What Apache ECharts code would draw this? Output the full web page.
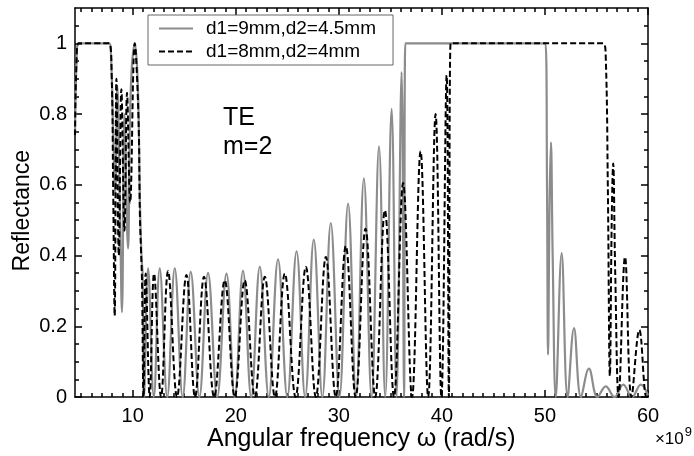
<!DOCTYPE html>
<html>
<head>
<meta charset="utf-8">
<script src="https://cdn.jsdelivr.net/npm/echarts@6/dist/echarts.min.js"></script>
<style>
html,body{margin:0;padding:0;background:#fff;}
#chart{width:694px;height:456px;}
</style>
</head>
<body>
<div id="chart"></div>
<script>
// ---- data ----
const seriesNames = ['d1=9mm,d2=4.5mm', 'd1=8mm,d2=4mm'];
const xTickLabels = [10, 20, 30, 40, 50, 60];
const yTickLabels = [0, 0.2, 0.4, 0.6, 0.8, 1];

// d1=9mm,d2=4.5mm  (grey solid): frequency (x1e9 rad/s) and reflectance
const grayFreq = [4.4, 4.55, 4.75, 7.7, 7.9, 8.1, 8.3, 8.5, 8.75, 8.96, 9.2, 9.54, 9.8, 10.2, 10.5, 10.7, 10.85, 10.97, 11.1,
  11.49, 12.05, 12.62, 13.35, 14.08, 14.85, 15.63, 16.47, 17.31, 18.2, 19.1, 19.9, 20.7, 21.5, 22.33, 23.2, 24.1, 25.0,
  25.9, 26.73, 27.57, 28.4, 29.22, 30.06, 30.9, 31.67, 32.43, 33.17, 33.9, 34.5, 35.12, 35.6, 36.09, 36.33, 36.45,
  50.05, 50.2, 50.3, 50.45, 50.58, 50.75, 51.05, 51.62, 52.2, 52.82, 53.5, 54.27, 55.1, 55.9, 56.75, 57.6, 58.45, 59.3, 60];
const grayRefl = [0.74, 0.95, 1, 1, 0.96, 0.75, 0.58, 0.88, 0.55, 0.24, 0.8, 0.42, 0.86, 1, 0.88, 0.55, 0.4, 0.34, 0,
  0.364, 0, 0.364, 0, 0.364, 0, 0.354, 0, 0.351, 0, 0.349, 0, 0.357, 0, 0.368, 0, 0.389, 0,
  0.412, 0, 0.445, 0, 0.492, 0, 0.547, 0, 0.618, 0, 0.709, 0, 0.815, 0, 0.919, 0, 1,
  1, 0.6, 0.12, 0.55, 0.72, 0.4, 0, 0.407, 0, 0.195, 0, 0.08, 0, 0.03, 0, 0.035, 0, 0.035, 0.005];

// d1=8mm,d2=4mm  (black dashed)
const blackFreq = [4.4, 4.55, 4.75, 7.7, 7.95, 8.1, 8.25, 8.42, 8.65, 8.9, 9.2, 9.45, 9.75, 10.2, 10.55, 10.7, 10.8, 10.9, 11.05,
  11.26, 11.65, 12.07, 12.75, 13.43, 14.3, 15.21, 16.05, 16.92, 17.9, 18.93, 19.9, 20.87, 21.85, 22.82, 23.8, 24.76, 25.8,
  26.8, 27.77, 28.74, 29.7, 30.68, 31.63, 32.59, 33.53, 34.47, 35.35, 36.24, 37.1, 37.93, 38.67, 39.39, 39.95, 40.46, 40.68, 40.85,
  55.65, 55.9, 56.1, 56.3, 56.48, 56.62, 56.82, 57.15, 57.77, 58.4, 59.16, 59.85, 60];
const blackRefl = [0.74, 0.95, 1, 1, 0.92, 0.6, 0.23, 0.9, 0.4, 0.87, 0.47, 0.86, 0.55, 1, 0.8, 0.51, 0.42, 0.33, 0,
  0.349, 0, 0.349, 0, 0.356, 0, 0.345, 0, 0.34, 0, 0.33, 0, 0.33, 0, 0.34, 0, 0.349, 0,
  0.368, 0, 0.396, 0, 0.427, 0, 0.476, 0, 0.528, 0, 0.605, 0, 0.695, 0, 0.8, 0, 0.91, 0, 1,
  1, 0.96, 0.6, 0.06, 0.5, 0.66, 0.35, 0, 0.396, 0, 0.19, 0, 0.01];

// ---- chart ----
const X_MIN = 4.4, X_MAX = 60, Y_MIN = 0, Y_MAX = 1.1;
const xMinor = [];
for (let v = 5; v < X_MAX; v += 1) { if (v % 10 !== 0) xMinor.push(v); }
const yMinor = [];
for (let i = 1; i <= 22; i++) { const v = +(i * 0.05).toFixed(2); if (Math.round(v * 100) % 20 !== 0 && v < Y_MAX) yMinor.push(v); }

const FONT = 'Liberation Sans, Arial, sans-serif';
const axisLineStyle = { color: '#000', width: 1.5 };

function xAxisDef(pos, major) {
  return {
    type: 'value', min: X_MIN, max: X_MAX, position: pos,
    axisLine: { show: major, onZero: false, lineStyle: axisLineStyle },
    axisTick: { show: true, inside: true, length: major ? 7 : 4, customValues: major ? xTickLabels : xMinor, lineStyle: axisLineStyle },
    axisLabel: { show: major && pos === 'bottom', customValues: xTickLabels, fontSize: 20, color: '#000', fontFamily: FONT, margin: 9 },
    splitLine: { show: false }
  };
}
function yAxisDef(pos, major) {
  return {
    type: 'value', min: Y_MIN, max: Y_MAX, position: pos,
    axisLine: { show: major, onZero: false, lineStyle: axisLineStyle },
    axisTick: { show: true, inside: true, length: major ? 7 : 4, customValues: major ? yTickLabels : yMinor, lineStyle: axisLineStyle },
    axisLabel: { show: major && pos === 'left', customValues: yTickLabels, fontSize: 20, color: '#000', fontFamily: FONT, margin: 8 },
    splitLine: { show: false }
  };
}

const chart = echarts.init(document.getElementById('chart'), null, { renderer: 'canvas' });
chart.setOption({
  animation: false,
  backgroundColor: '#fff',
  grid: { left: 75, right: 46, top: 8, bottom: 59, containLabel: false },
  xAxis: [xAxisDef('bottom', true), xAxisDef('bottom', false), xAxisDef('top', true), xAxisDef('top', false)],
  yAxis: [yAxisDef('left', true), yAxisDef('left', false), yAxisDef('right', true), yAxisDef('right', false)],
  legend: {
    orient: 'vertical', left: 148, top: 15,
    padding: [4, 17, 4, 10], itemGap: 4, itemWidth: 34, itemHeight: 14,
    borderColor: '#666', borderWidth: 1, backgroundColor: '#fff',
    itemStyle: { color: 'rgba(0,0,0,0)', borderColor: 'rgba(0,0,0,0)', borderWidth: 0, opacity: 0 },
    textStyle: { fontSize: 19, color: '#000', fontFamily: FONT, padding: [0, 0, 0, 8] },
    data: seriesNames
  },
  graphic: [
    { type: 'text', left: 223, top: 106, style: { text: 'TE', fontSize: 25, fill: '#000', fontFamily: FONT } },
    { type: 'text', left: 223, top: 135, style: { text: 'm=2', fontSize: 25, fill: '#000', fontFamily: FONT } },
    { type: 'text', right: 2, top: 426, style: { text: '{a|×10}{b|9}', rich: { a: { fontSize: 17, fontFamily: FONT, fill: '#000', verticalAlign: 'bottom' }, b: { fontSize: 13, fontFamily: FONT, fill: '#000', verticalAlign: 'top', padding: [0, 0, 9, 1] } } } },
    { type: 'text', left: 207, top: 427, style: { text: 'Angular frequency ω (rad/s)', fontSize: 25, fill: '#000', fontFamily: FONT } },
    { type: 'text', left: 11, top: 150, rotation: Math.PI / 2, style: { text: 'Reflectance', fontSize: 23, fill: '#000', fontFamily: FONT } }
  ],
  series: [
    {
      name: seriesNames[0], type: 'line', xAxisIndex: 0, yAxisIndex: 0,
      data: grayFreq.map((f, i) => [f, grayRefl[i]]),
      showSymbol: false, symbol: 'none', smooth: 0.4, clip: true,
      lineStyle: { color: '#8c8c8c', width: 2.2 }, itemStyle: { color: '#8c8c8c' }, z: 2
    },
    {
      name: seriesNames[1], type: 'line', xAxisIndex: 0, yAxisIndex: 0,
      data: blackFreq.map((f, i) => [f, blackRefl[i]]),
      showSymbol: false, symbol: 'none', smooth: 0.4, clip: true,
      lineStyle: { color: '#000', width: 2, type: [6, 3] }, itemStyle: { color: '#000' }, z: 3
    }
  ]
});
</script>
</body>
</html>
